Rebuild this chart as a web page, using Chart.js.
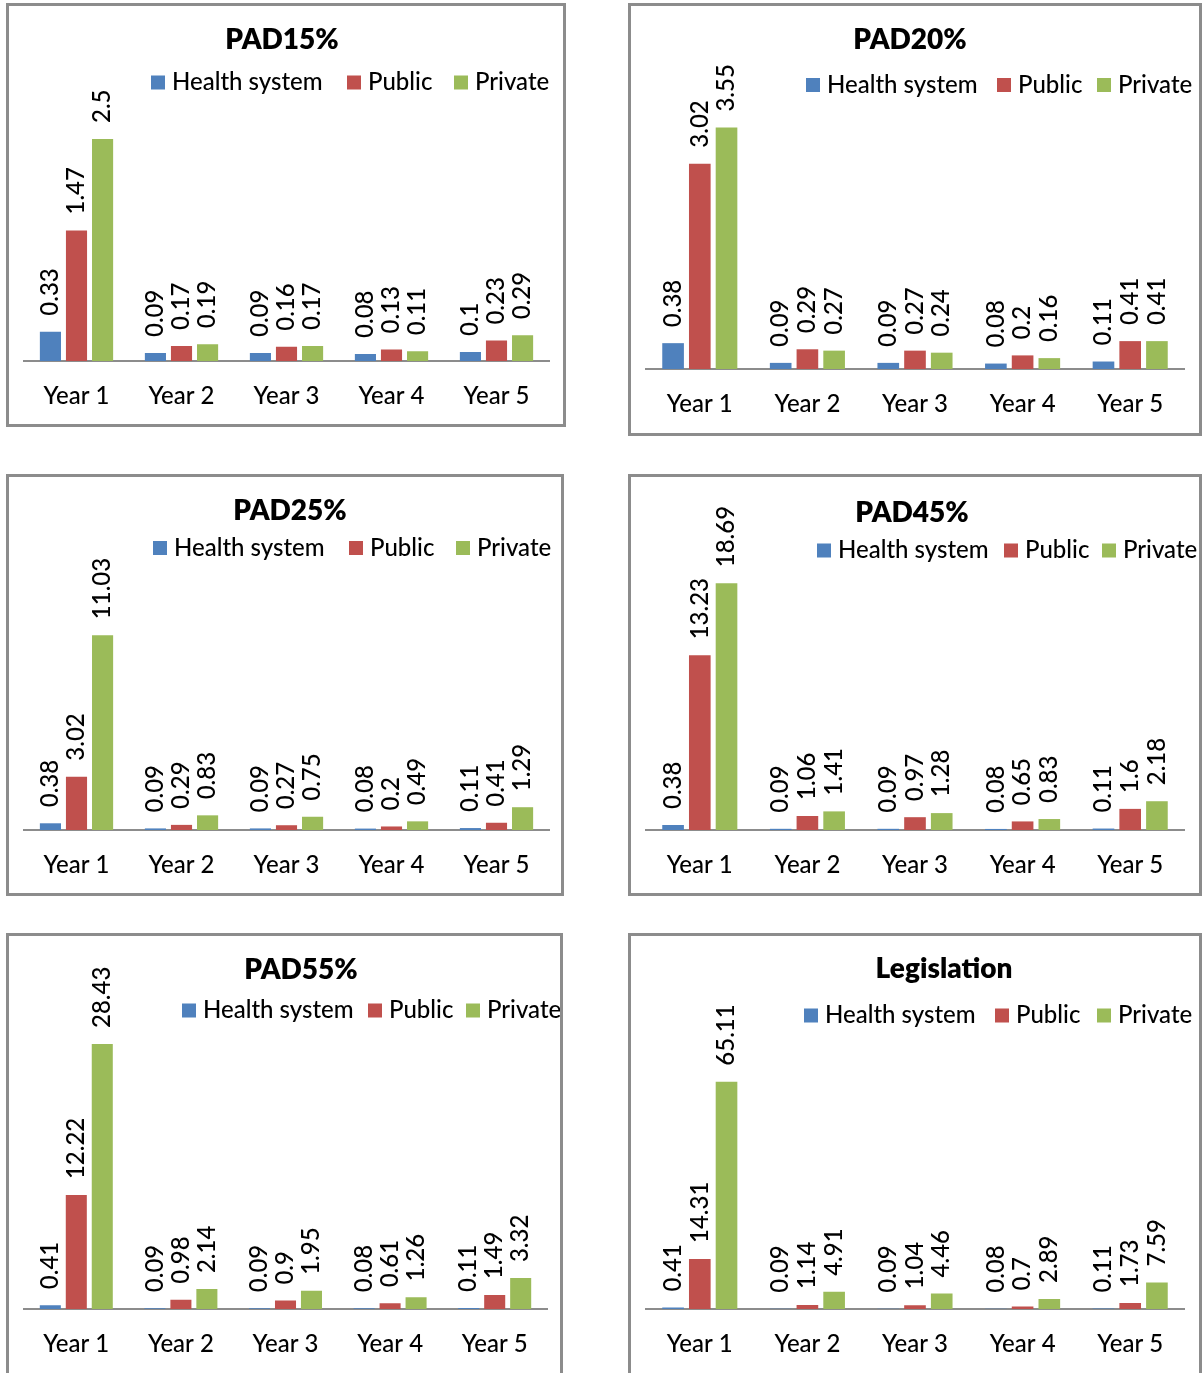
<!DOCTYPE html>
<html>
<head>
<meta charset="utf-8">
<title>Costs by year and scenario</title>
<script src="https://cdn.jsdelivr.net/npm/chart.js@4.4.1/dist/chart.umd.min.js"></script>
<style>
  html, body { margin: 0; padding: 0; background: #ffffff; }
  body { width: 1203px; height: 1373px; position: relative; overflow: hidden; }
  .panel { position: absolute; }
  .panel canvas { position: absolute; left: 0; top: 0; }
  .frame {
    position: absolute; left: 0; top: 0; right: 0; bottom: 0;
    border: 3px solid #8c8c8c; box-sizing: border-box; pointer-events: none;
  }
</style>
</head>
<body>
<script>
// ---- data -------------------------------------------------------------
const categories = ['Year 1', 'Year 2', 'Year 3', 'Year 4', 'Year 5'];
const seriesNames = ['Health system', 'Public', 'Private'];

const pad15Health  = [0.33, 0.09, 0.09, 0.08, 0.1];
const pad15Public  = [1.47, 0.17, 0.16, 0.13, 0.23];
const pad15Private = [2.5, 0.19, 0.17, 0.11, 0.29];

const pad20Health  = [0.38, 0.09, 0.09, 0.08, 0.11];
const pad20Public  = [3.02, 0.29, 0.27, 0.2, 0.41];
const pad20Private = [3.55, 0.27, 0.24, 0.16, 0.41];

const pad25Health  = [0.38, 0.09, 0.09, 0.08, 0.11];
const pad25Public  = [3.02, 0.29, 0.27, 0.2, 0.41];
const pad25Private = [11.03, 0.83, 0.75, 0.49, 1.29];

const pad45Health  = [0.38, 0.09, 0.09, 0.08, 0.11];
const pad45Public  = [13.23, 1.06, 0.97, 0.65, 1.6];
const pad45Private = [18.69, 1.41, 1.28, 0.83, 2.18];

const pad55Health  = [0.41, 0.09, 0.09, 0.08, 0.11];
const pad55Public  = [12.22, 0.98, 0.9, 0.61, 1.49];
const pad55Private = [28.43, 2.14, 1.95, 1.26, 3.32];

const legHealth  = [0.41, 0.09, 0.09, 0.08, 0.11];
const legPublic  = [14.31, 1.14, 1.04, 0.7, 1.73];
const legPrivate = [65.11, 4.91, 4.46, 2.89, 7.59];

// value-axis maximum of each panel (axis itself is hidden)
const axisMaxima = [3, 4, 12, 20, 30, 70];

// ---- styling ----------------------------------------------------------
const seriesColors = ['#4F81BD', '#C0504D', '#9BBB59'];
const FONT = 'Lato, "Open Sans", sans-serif';
const TEXT_FONT = '500 24px ' + FONT;
const TITLE_FONT = '800 28px ' + FONT;

// page layout of every panel: frame box, plot rectangle, title and legend spots
const panels = [
  { title: 'PAD15%', series: [pad15Health, pad15Public, pad15Private], max: axisMaxima[0],
    box: [6, 3, 566, 427], plot: [24, 549, 94.6, 361], titleAt: [282, 40],
    legendX: [151, 347, 454], legendY: 82.5 },
  { title: 'PAD20%', series: [pad20Health, pad20Public, pad20Private], max: axisMaxima[1],
    box: [628, 3, 1202, 436], plot: [646, 1184, 97, 369], titleAt: [910, 40],
    legendX: [806, 997, 1097], legendY: 85 },
  { title: 'PAD25%', series: [pad25Health, pad25Public, pad25Private], max: axisMaxima[2],
    box: [6, 474, 564, 896], plot: [24, 549, 618, 830], titleAt: [290, 511],
    legendX: [153, 349, 456], legendY: 548 },
  { title: 'PAD45%', series: [pad45Health, pad45Public, pad45Private], max: axisMaxima[3],
    box: [628, 474, 1202, 896], plot: [646, 1184, 566, 830], titleAt: [912, 513],
    legendX: [817, 1004, 1102], legendY: 550.5 },
  { title: 'PAD55%', series: [pad55Health, pad55Public, pad55Private], max: axisMaxima[4],
    box: [6, 933, 563, 1400], plot: [24, 547, 1029.4, 1309], titleAt: [301, 969.5],
    legendX: [182, 368, 466], legendY: 1010.5 },
  { title: 'Legislation', series: [legHealth, legPublic, legPrivate], max: axisMaxima[5],
    box: [628, 933, 1202, 1400], plot: [646, 1184, 1064.6, 1309], titleAt: [944, 969],
    legendX: [804, 995, 1097], legendY: 1015.5 }
];

// title, legend and rotated value labels painted onto each chart
const panelDecor = {
  id: 'panelDecor',
  afterDatasetsDraw(chart, args, opts) {
    const ctx = chart.ctx;
    ctx.save();
    ctx.fillStyle = '#000';
    ctx.font = TEXT_FONT;
    ctx.textAlign = 'left';
    ctx.textBaseline = 'middle';
    chart.data.datasets.forEach((ds, i) => {
      const meta = chart.getDatasetMeta(i);
      meta.data.forEach((bar, j) => {
        ctx.save();
        ctx.translate(bar.x, bar.y - opts.labelGap);
        ctx.rotate(-Math.PI / 2);
        ctx.fillText(String(ds.data[j]), 0, 0);
        ctx.restore();
      });
    });

    ctx.font = TITLE_FONT;
    ctx.textAlign = 'center';
    ctx.fillText(opts.title, opts.titleX, opts.titleY);

    ctx.font = TEXT_FONT;
    ctx.textAlign = 'left';
    chart.data.datasets.forEach((ds, i) => {
      const x = opts.legendX[i];
      ctx.fillStyle = ds.backgroundColor;
      ctx.fillRect(x, opts.legendY - 7, 14, 14);
      ctx.fillStyle = '#000';
      ctx.fillText(ds.label, x + 21, opts.legendY);
    });
    ctx.restore();
  }
};

function buildPanel(p) {
  const [L, T, R, B] = p.box;
  const W = R - L, H = B - T;
  const [pl, pr, pt, pb] = p.plot;

  const wrap = document.createElement('div');
  wrap.className = 'panel';
  wrap.style.left = L + 'px';
  wrap.style.top = T + 'px';
  wrap.style.width = W + 'px';
  wrap.style.height = H + 'px';
  const canvas = document.createElement('canvas');
  canvas.width = W;
  canvas.height = H;
  canvas.style.width = W + 'px';
  canvas.style.height = H + 'px';
  const frame = document.createElement('div');
  frame.className = 'frame';
  wrap.appendChild(canvas);
  wrap.appendChild(frame);
  document.body.appendChild(wrap);

  const xAxisHeight = B - pb;

  new Chart(canvas, {
    type: 'bar',
    data: {
      labels: categories,
      datasets: p.series.map((values, i) => ({
        label: seriesNames[i],
        data: values,
        backgroundColor: seriesColors[i],
        borderWidth: 0,
        categoryPercentage: 0.745,
        barPercentage: 0.81
      }))
    },
    options: {
      responsive: false,
      animation: false,
      devicePixelRatio: 1,
      layout: {
        padding: { left: pl - L, right: R - pr, top: pt - T, bottom: 0 }
      },
      scales: {
        x: {
          grid: { display: false, drawTicks: false },
          border: { display: true, color: '#8c8c8c', width: 2 },
          ticks: { color: '#000', font: { family: FONT, size: 24, weight: 500 }, padding: 21, maxRotation: 0 },
          afterFit: (scale) => { scale.height = xAxisHeight; }
        },
        y: { display: false, min: 0, max: p.max }
      },
      plugins: {
        legend: { display: false },
        title: { display: false },
        tooltip: { enabled: false },
        panelDecor: {
          title: p.title,
          titleX: p.titleAt[0] - L,
          titleY: p.titleAt[1] - T,
          legendX: p.legendX.map(x => x - L),
          legendY: p.legendY - T,
          labelGap: 16
        }
      }
    },
    plugins: [panelDecor]
  });
}

const fontReady = (document.fonts && document.fonts.load)
  ? Promise.all([document.fonts.load(TEXT_FONT), document.fonts.load(TITLE_FONT)]).catch(() => {})
  : Promise.resolve();
fontReady.then(() => panels.forEach(buildPanel));
</script>
</body>
</html>
